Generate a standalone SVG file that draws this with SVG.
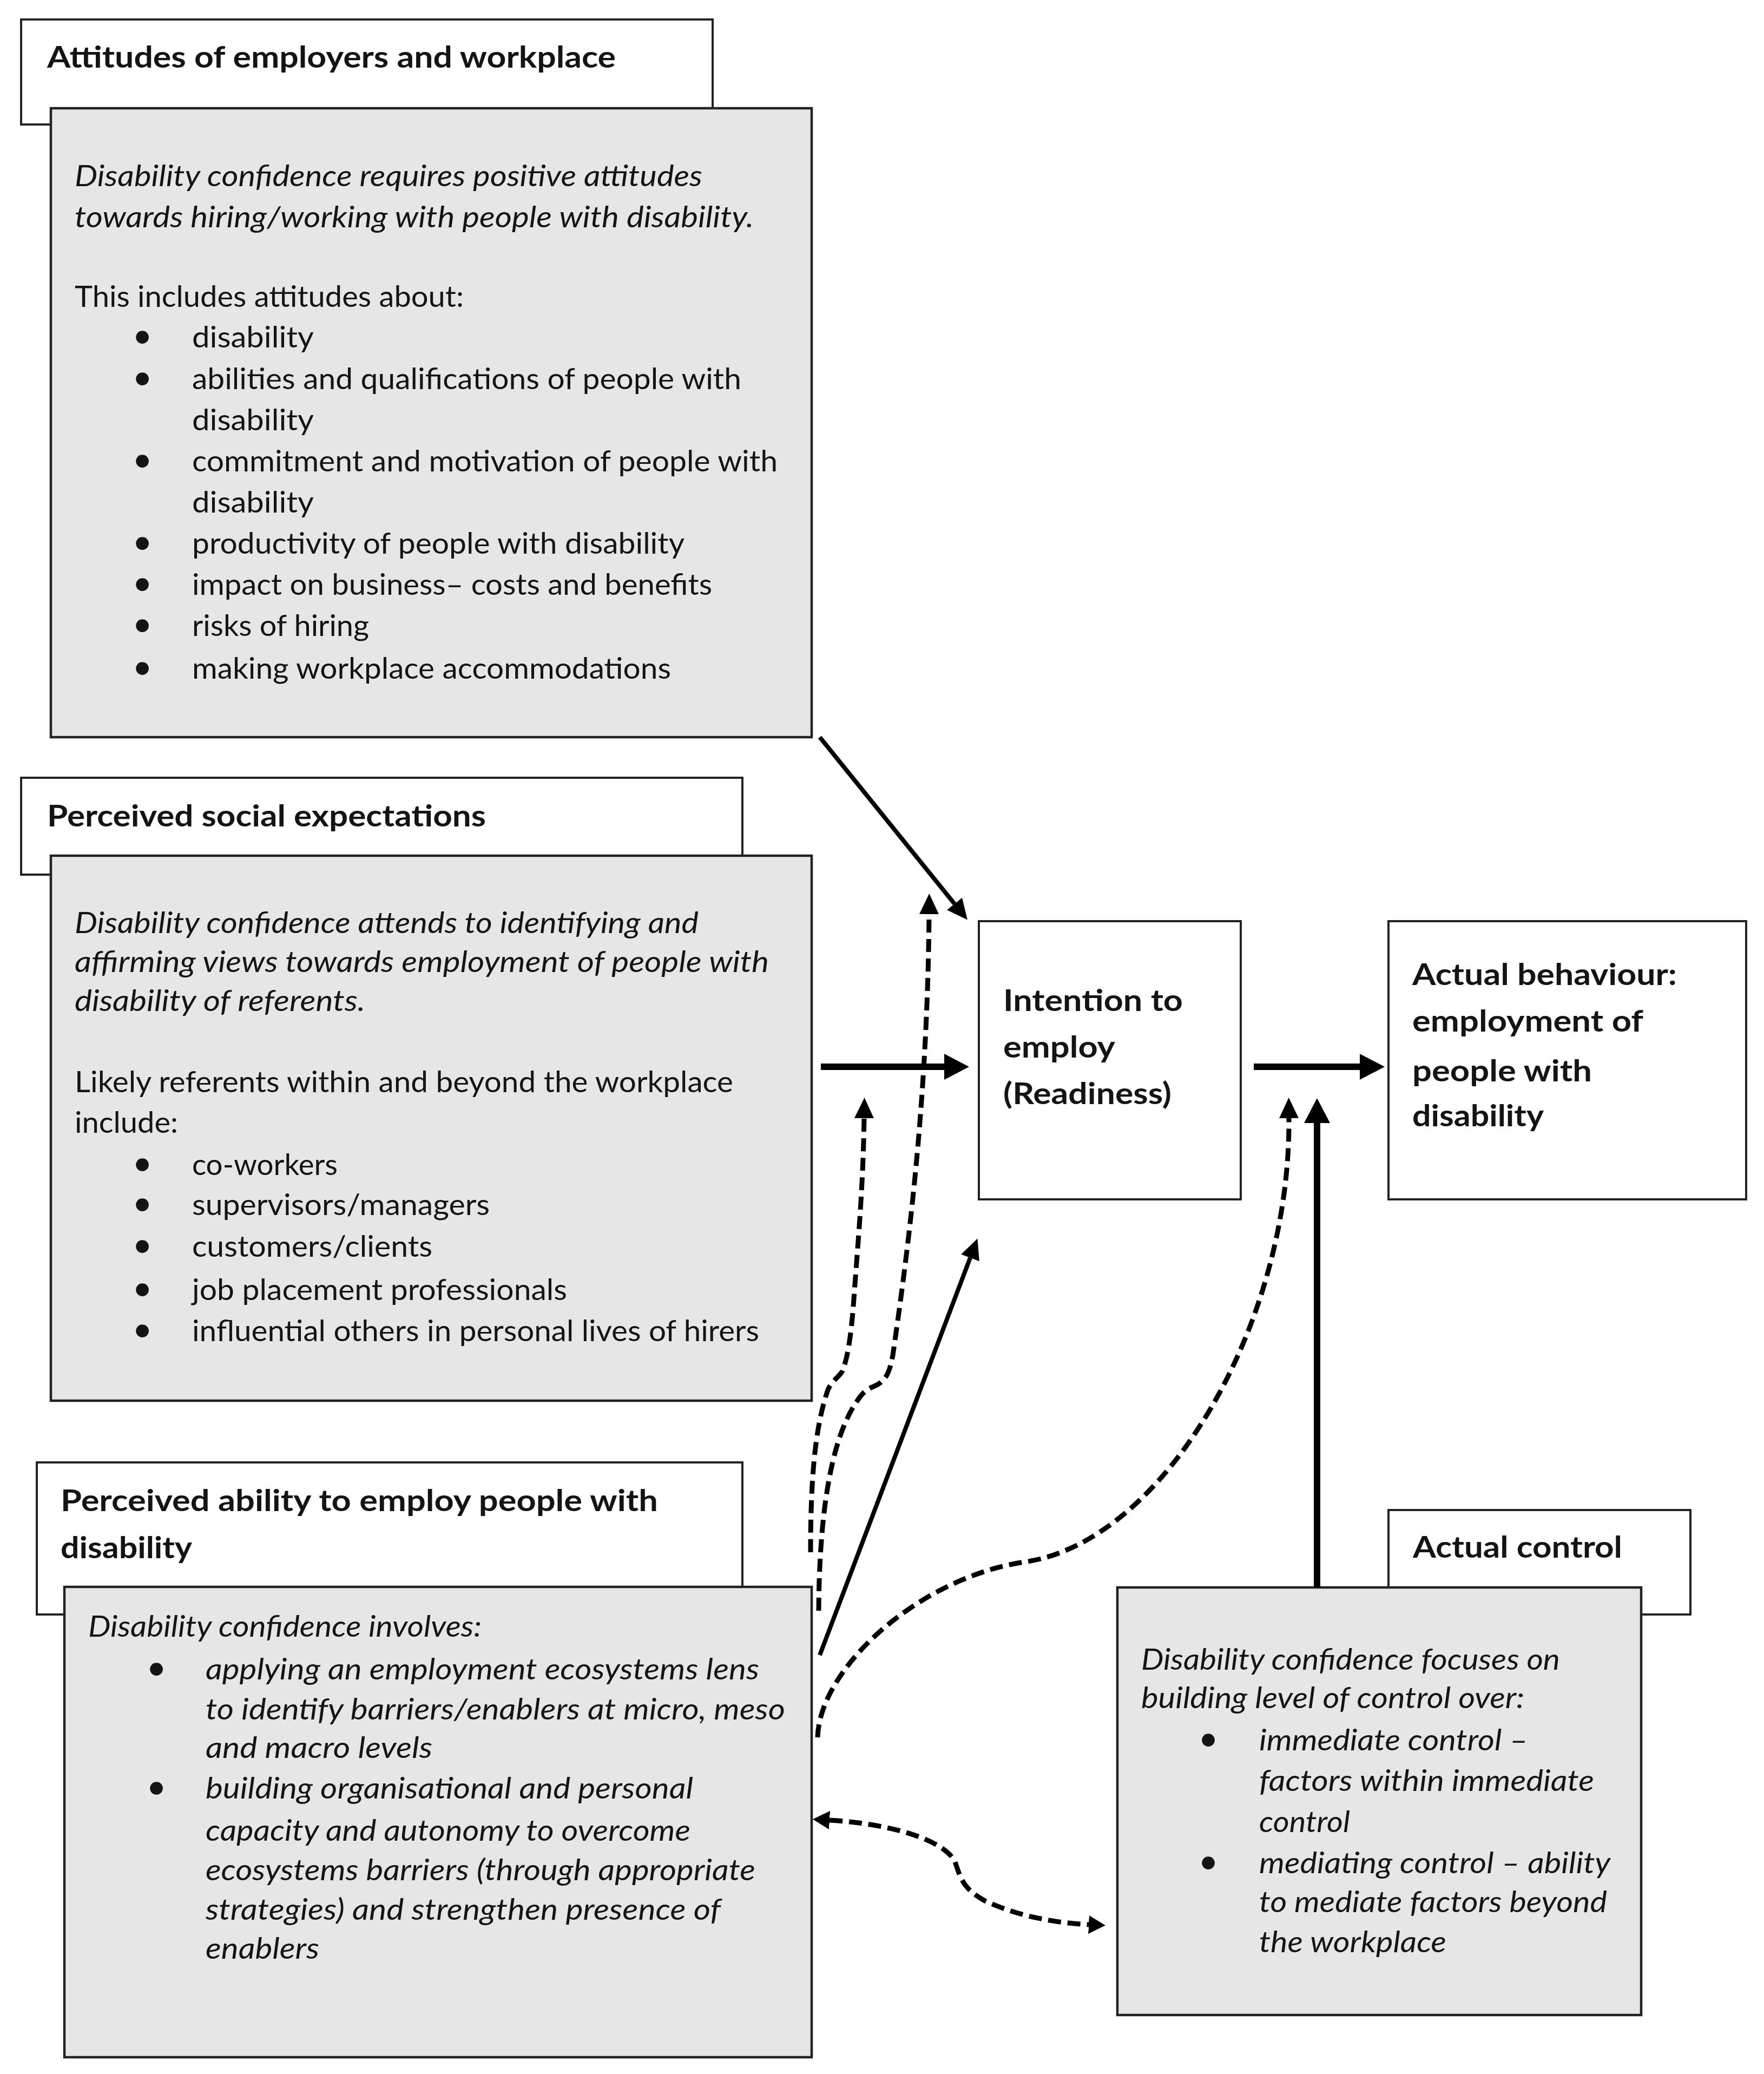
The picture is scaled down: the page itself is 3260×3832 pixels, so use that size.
<svg xmlns="http://www.w3.org/2000/svg" width="3260" height="3832" viewBox="0 0 3260 3832">
<style>
.hdr{fill:#fff;stroke:#222;stroke-width:4}
.box{fill:#e6e6e6;stroke:#222;stroke-width:4.5}
.node{fill:#fff;stroke:#222;stroke-width:4}
text{font-family:Lato,"Open Sans","Liberation Sans",sans-serif;font-size:55px;fill:#141414}
.b{font-weight:700}
.i{font-style:italic}
.bl{text-anchor:middle;font-size:64px}
.thick{stroke:#000;stroke-width:12;fill:none}
.thin{stroke:#000;stroke-width:8;fill:none}
.dash{stroke:#000;stroke-width:9;fill:none;stroke-dasharray:24 12}
</style>
<defs>
<marker id="hThick" markerUnits="userSpaceOnUse" markerWidth="46" markerHeight="48" refX="0" refY="24" orient="auto"><path d="M0,0 L46,24 L0,48 Z" fill="#000"/></marker>
<marker id="hThin" markerUnits="userSpaceOnUse" markerWidth="38" markerHeight="36" refX="0" refY="18" orient="auto"><path d="M0,0 L38,18 L0,36 Z" fill="#000"/></marker>
<marker id="hBi" markerUnits="userSpaceOnUse" markerWidth="31" markerHeight="34" refX="0" refY="17" orient="auto-start-reverse"><path d="M0,0 L31,17 L0,34 Z" fill="#000"/></marker>
</defs>
<rect width="3260" height="3832" fill="#fff"/>

<g id="attitudes">
<rect class="hdr" x="39" y="36" width="1278" height="194"/>
<text class="b" x="87" y="125" textLength="1051" lengthAdjust="spacingAndGlyphs">Attitudes of employers and workplace</text>
<rect class="box" x="94" y="200" width="1406" height="1162"/>
<text class="i" x="138" y="344" textLength="1160" lengthAdjust="spacingAndGlyphs">Disability confidence requires positive attitudes</text>
<text class="i" x="138" y="420" textLength="1255" lengthAdjust="spacingAndGlyphs">towards hiring/working with people with disability.</text>
<text x="138" y="567" textLength="719" lengthAdjust="spacingAndGlyphs">This includes attitudes about:</text>
<text class="bl" x="263" y="642">•</text><text x="355" y="642" textLength="225" lengthAdjust="spacingAndGlyphs">disability</text>
<text class="bl" x="263" y="719">•</text><text x="355" y="719" textLength="1015" lengthAdjust="spacingAndGlyphs">abilities and qualifications of people with</text>
<text x="355" y="795" textLength="225" lengthAdjust="spacingAndGlyphs">disability</text>
<text class="bl" x="263" y="871">•</text><text x="355" y="871" textLength="1082" lengthAdjust="spacingAndGlyphs">commitment and motivation of people with</text>
<text x="355" y="947" textLength="225" lengthAdjust="spacingAndGlyphs">disability</text>
<text class="bl" x="263" y="1023">•</text><text x="355" y="1023" textLength="910" lengthAdjust="spacingAndGlyphs">productivity of people with disability</text>
<text class="bl" x="263" y="1099">•</text><text x="355" y="1099" textLength="961" lengthAdjust="spacingAndGlyphs">impact on business– costs and benefits</text>
<text class="bl" x="263" y="1175">•</text><text x="355" y="1175" textLength="327" lengthAdjust="spacingAndGlyphs">risks of hiring</text>
<text class="bl" x="263" y="1254">•</text><text x="355" y="1254" textLength="885" lengthAdjust="spacingAndGlyphs">making workplace accommodations</text>
</g>

<g id="social">
<rect class="hdr" x="39" y="1437" width="1333" height="179"/>
<text class="b" x="87" y="1527" textLength="811" lengthAdjust="spacingAndGlyphs">Perceived social expectations</text>
<rect class="box" x="94" y="1581" width="1406" height="1007"/>
<text class="i" x="138" y="1724" textLength="1153" lengthAdjust="spacingAndGlyphs">Disability confidence attends to identifying and</text>
<text class="i" x="138" y="1796" textLength="1283" lengthAdjust="spacingAndGlyphs">affirming views towards employment of people with</text>
<text class="i" x="138" y="1868" textLength="537" lengthAdjust="spacingAndGlyphs">disability of referents.</text>
<text x="138" y="2018" textLength="1217" lengthAdjust="spacingAndGlyphs">Likely referents within and beyond the workplace</text>
<text x="138" y="2093" textLength="191" lengthAdjust="spacingAndGlyphs">include:</text>
<text class="bl" x="263" y="2171">•</text><text x="355" y="2171" textLength="269" lengthAdjust="spacingAndGlyphs">co-workers</text>
<text class="bl" x="263" y="2245">•</text><text x="355" y="2245" textLength="550" lengthAdjust="spacingAndGlyphs">supervisors/managers</text>
<text class="bl" x="263" y="2322">•</text><text x="355" y="2322" textLength="444" lengthAdjust="spacingAndGlyphs">customers/clients</text>
<text class="bl" x="263" y="2402">•</text><text x="355" y="2402" textLength="693" lengthAdjust="spacingAndGlyphs">job placement professionals</text>
<text class="bl" x="263" y="2478">•</text><text x="355" y="2478" textLength="1048" lengthAdjust="spacingAndGlyphs">influential others in personal lives of hirers</text>
</g>

<g id="ability">
<rect class="hdr" x="68" y="2702" width="1304" height="281"/>
<text class="b" x="112" y="2792" textLength="1104" lengthAdjust="spacingAndGlyphs">Perceived ability to employ people with</text>
<text class="b" x="112" y="2879" textLength="243" lengthAdjust="spacingAndGlyphs">disability</text>
<rect class="box" x="119" y="2932" width="1381" height="869"/>
<text class="i" x="163" y="3024" textLength="727" lengthAdjust="spacingAndGlyphs">Disability confidence involves:</text>
<text class="bl" x="289" y="3103">•</text><text class="i" x="380" y="3103" textLength="1023" lengthAdjust="spacingAndGlyphs">applying an employment ecosystems lens</text>
<text class="i" x="380" y="3177" textLength="1071" lengthAdjust="spacingAndGlyphs">to identify barriers/enablers at micro, meso</text>
<text class="i" x="380" y="3248" textLength="419" lengthAdjust="spacingAndGlyphs">and macro levels</text>
<text class="bl" x="289" y="3323">•</text><text class="i" x="380" y="3323" textLength="901" lengthAdjust="spacingAndGlyphs">building organisational and personal</text>
<text class="i" x="380" y="3401" textLength="896" lengthAdjust="spacingAndGlyphs">capacity and autonomy to overcome</text>
<text class="i" x="380" y="3474" textLength="1016" lengthAdjust="spacingAndGlyphs">ecosystems barriers (through appropriate</text>
<text class="i" x="380" y="3547" textLength="952" lengthAdjust="spacingAndGlyphs">strategies) and strengthen presence of</text>
<text class="i" x="380" y="3619" textLength="210" lengthAdjust="spacingAndGlyphs">enablers</text>
</g>

<g id="intention">
<rect class="node" x="1809" y="1702" width="484" height="514"/>
<text class="b" x="1854" y="1868" textLength="332" lengthAdjust="spacingAndGlyphs">Intention to</text>
<text class="b" x="1854" y="1954" textLength="207" lengthAdjust="spacingAndGlyphs">employ</text>
<text class="b" x="1854" y="2040" textLength="311" lengthAdjust="spacingAndGlyphs">(Readiness)</text>
</g>

<g id="behaviour">
<rect class="node" x="2566" y="1702" width="661" height="514"/>
<text class="b" x="2610" y="1820" textLength="489" lengthAdjust="spacingAndGlyphs">Actual behaviour:</text>
<text class="b" x="2610" y="1906" textLength="427" lengthAdjust="spacingAndGlyphs">employment of</text>
<text class="b" x="2610" y="1998" textLength="332" lengthAdjust="spacingAndGlyphs">people with</text>
<text class="b" x="2610" y="2081" textLength="243" lengthAdjust="spacingAndGlyphs">disability</text>
</g>

<g id="control">
<rect class="hdr" x="2566" y="2790" width="558" height="193"/>
<text class="b" x="2611" y="2878" textLength="387" lengthAdjust="spacingAndGlyphs">Actual control</text>
<rect class="box" x="2065" y="2933" width="968" height="790"/>
<text class="i" x="2109" y="3085" textLength="774" lengthAdjust="spacingAndGlyphs">Disability confidence focuses on</text>
<text class="i" x="2109" y="3156" textLength="708" lengthAdjust="spacingAndGlyphs">building level of control over:</text>
<text class="bl" x="2233" y="3234">•</text><text class="i" x="2327" y="3234" textLength="497" lengthAdjust="spacingAndGlyphs">immediate control –</text>
<text class="i" x="2327" y="3309" textLength="619" lengthAdjust="spacingAndGlyphs">factors within immediate</text>
<text class="i" x="2327" y="3385" textLength="168" lengthAdjust="spacingAndGlyphs">control</text>
<text class="bl" x="2233" y="3461">•</text><text class="i" x="2327" y="3461" textLength="649" lengthAdjust="spacingAndGlyphs">mediating control – ability</text>
<text class="i" x="2327" y="3533" textLength="643" lengthAdjust="spacingAndGlyphs">to mediate factors beyond</text>
<text class="i" x="2327" y="3607" textLength="346" lengthAdjust="spacingAndGlyphs">the workplace</text>
</g>

<g id="connectors">
<path class="thin" d="M1515,1362 L1764,1670" marker-end="url(#hThin)"/>
<path class="thick" d="M1517,1971 L1745,1971" marker-end="url(#hThick)"/>
<path class="thick" d="M2317,1971 L2513,1971" marker-end="url(#hThick)"/>
<path class="thick" d="M2434,2933 L2434,2075" marker-end="url(#hThick)"/>
<path class="dash" d="M1511,3210 C1515,3080 1700,2915 1893,2886 C2150,2850 2385,2450 2382,2066" marker-end="url(#hThin)"/>
<path class="thin" d="M1515,3058 L1793,2324" marker-end="url(#hThin)"/>
<path class="dash" d="M1513,2976 C1514,2800 1535,2660 1583,2590 C1596,2570 1604,2566 1614,2562 C1640,2552 1645,2530 1650,2504 C1675,2330 1714,2050 1717,1689" marker-end="url(#hThin)"/>
<path class="dash" d="M1498,2868 C1498,2740 1505,2640 1530,2568 C1538,2550 1550,2545 1557,2533 C1570,2500 1575,2440 1578,2400 C1585,2300 1595,2200 1597,2066" marker-end="url(#hThin)"/>
<path class="dash" d="M1533,3363 C1650,3370 1745,3400 1765,3440 C1775,3470 1780,3490 1820,3512 C1880,3540 1950,3553 2012,3556" marker-start="url(#hBi)" marker-end="url(#hBi)"/>
</g>
</svg>
